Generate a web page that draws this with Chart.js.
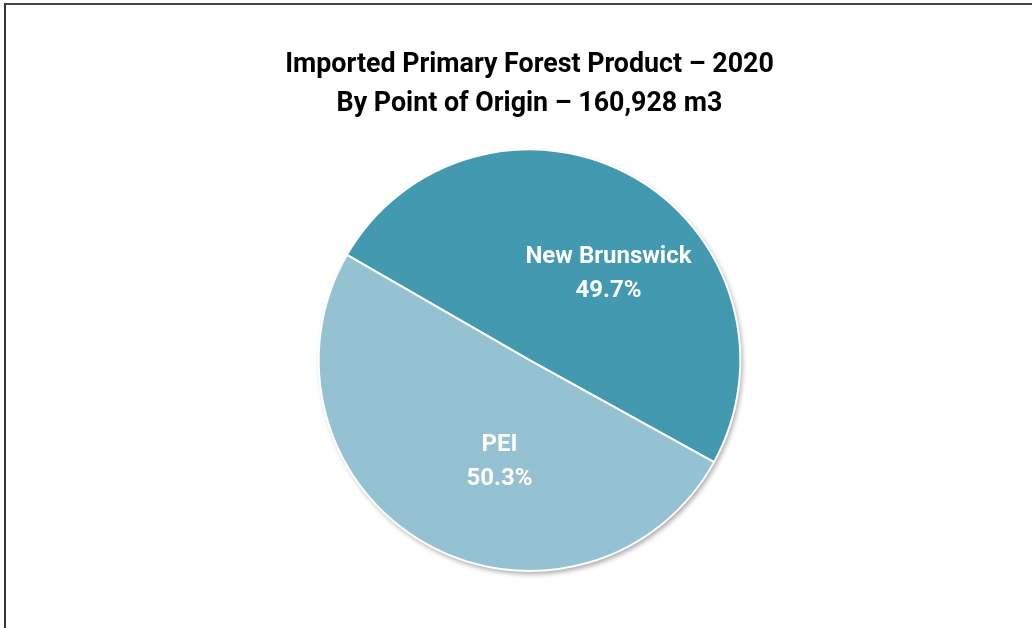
<!DOCTYPE html>
<html>
<head>
<meta charset="utf-8">
<script src="https://cdn.jsdelivr.net/npm/chart.js@4"></script>
<style>
  html, body { margin: 0; padding: 0; background: #fff; overflow: hidden; }
  #frame {
    position: absolute; left: 4px; top: 3px; width: 1100px; height: 700px;
    border-left: 2px solid #333; border-top: 2px solid #444;
  }
  #wrap { position: absolute; left: 0; top: 0; width: 1032px; height: 628px; }
</style>
</head>
<body>
<div id="frame"></div>
<div id="wrap"><canvas id="chartOrigin"></canvas></div>
<script>
// ── Data ──────────────────────────────────────────────────
const ORIGINS = ['New Brunswick', 'PEI'];
const SHARES  = [49.7, 50.3];
const TITLE_LINES = ['Imported Primary Forest Product – 2020', 'By Point of Origin – 160,928 m3'];

const SLICE_COLORS = ['#4399b0', '#94c2d3'];
// label placement inside each slice (angle shift in degrees, radius fraction)
const LABEL_SHIFT = [13, -13];
const LABEL_RADIUS = [0.555, 0.503];

// soft drop shadow behind the pie
const pieShadow = {
  id: 'pieShadow',
  beforeDatasetsDraw(chart) {
    const arc = chart.getDatasetMeta(0).data[0];
    if (!arc) return;
    const { ctx } = chart;
    ctx.save();
    ctx.shadowColor = 'rgba(0,0,0,0.35)';
    ctx.shadowBlur = 5;
    ctx.shadowOffsetX = 2;
    ctx.shadowOffsetY = 3;
    ctx.fillStyle = '#fff';
    ctx.beginPath();
    ctx.arc(arc.x, arc.y, arc.outerRadius, 0, Math.PI * 2);
    ctx.fill();
    ctx.restore();
  },
};

// category + percent labels inside the slices
const sliceLabels = {
  id: 'sliceLabels',
  afterDatasetsDraw(chart) {
    const { ctx } = chart;
    const meta = chart.getDatasetMeta(0);
    ctx.save();
    ctx.fillStyle = '#fff';
    ctx.font = "bold 24px Roboto, 'Noto Sans', sans-serif";
    ctx.textAlign = 'center';
    ctx.textBaseline = 'middle';
    meta.data.forEach((arc, i) => {
      const mid = (arc.startAngle + arc.endAngle) / 2 + LABEL_SHIFT[i] * Math.PI / 180;
      const r = arc.outerRadius * LABEL_RADIUS[i];
      const x = arc.x + Math.cos(mid) * r;
      const y = arc.y + Math.sin(mid) * r;
      ctx.fillText(ORIGINS[i], x, y - 17);
      ctx.fillText(SHARES[i].toFixed(1) + '%', x, y + 17);
    });
    ctx.restore();
  },
};

new Chart(document.getElementById('chartOrigin'), {
  type: 'pie',
  data: {
    labels: ORIGINS,
    datasets: [{
      data: SHARES,
      backgroundColor: SLICE_COLORS,
      borderColor: '#fff',
      borderWidth: 2,
    }],
  },
  options: {
    responsive: true,
    maintainAspectRatio: false,
    animation: false,
    rotation: -60,
    layout: { padding: { left: 27, right: 0, top: 0, bottom: 56 } },
    plugins: {
      legend: { display: false },
      tooltip: { enabled: false },
      title: {
        display: true,
        text: TITLE_LINES,
        color: '#000',
        font: { family: "Roboto, 'Noto Sans', sans-serif", size: 26.8, weight: 'bold', lineHeight: 1.444 },
        padding: { top: 46, bottom: 25 },
      },
    },
  },
  plugins: [pieShadow, sliceLabels],
});
</script>
</body>
</html>
